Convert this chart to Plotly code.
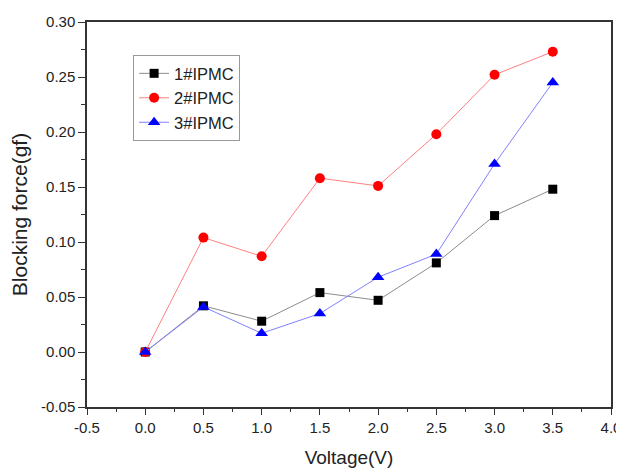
import plotly.graph_objects as go

voltage = [0.0, 0.5, 1.0, 1.5, 2.0, 2.5, 3.0, 3.5]
ipmc1 = [0.000, 0.042, 0.028, 0.054, 0.047, 0.081, 0.124, 0.148]
ipmc2 = [0.000, 0.104, 0.087, 0.158, 0.151, 0.198, 0.252, 0.273]
ipmc3 = [0.000, 0.041, 0.017, 0.035, 0.068, 0.089, 0.171, 0.245]
names = ["1#IPMC", "2#IPMC", "3#IPMC"]

x_tickvals = [-0.5, 0.0, 0.5, 1.0, 1.5, 2.0, 2.5, 3.0, 3.5, 4.0]
x_ticktext = ["-0.5", "0.0", "0.5", "1.0", "1.5", "2.0", "2.5", "3.0", "3.5", "4.0"]
y_tickvals = [-0.05, 0.0, 0.05, 0.10, 0.15, 0.20, 0.25, 0.30]
y_ticktext = ["-0.05", "0.00", "0.05", "0.10", "0.15", "0.20", "0.25", "0.30"]

FONT = "Liberation Sans, Arial, sans-serif"

fig = go.Figure()
fig.add_trace(go.Scatter(x=voltage, y=ipmc1, name=names[0], mode="lines+markers",
                         line=dict(color="#8c8c8c", width=1),
                         marker=dict(symbol="square", size=9, color="black")))
fig.add_trace(go.Scatter(x=voltage, y=ipmc2, name=names[1], mode="lines+markers",
                         line=dict(color="#ff8080", width=1),
                         marker=dict(symbol="circle", size=10, color="#ff0000")))
fig.add_trace(go.Scatter(x=voltage, y=ipmc3, name=names[2], mode="lines+markers",
                         line=dict(color="#8080ff", width=1),
                         marker=dict(symbol="triangle-up", size=11, color="#0000ff")))

axis_common = dict(showgrid=False, zeroline=False, showline=True, linecolor="#333333",
                   linewidth=1.5, mirror=True, ticks="outside",
                   tickcolor="#333333", automargin=False,
                   tickfont=dict(family=FONT, size=15, color="#222222"))

fig.update_xaxes(range=[-0.5, 4.0], tickvals=x_tickvals, ticktext=x_ticktext, ticklen=6,
                 minor=dict(ticks="outside", ticklen=3, dtick=0.25, tickcolor="#333333"),
                 title=dict(text="Voltage(V)", font=dict(family=FONT, size=19, color="#222222"), standoff=18),
                 **axis_common)
fig.update_yaxes(range=[-0.05, 0.30], tickvals=y_tickvals, ticktext=y_ticktext, ticklen=7,
                 minor=dict(ticks="outside", ticklen=4, dtick=0.025, tickcolor="#333333"),
                 title=dict(text="Blocking force(gf)", font=dict(family=FONT, size=21, color="#222222"), standoff=10),
                 **axis_common)

fig.update_layout(
    width=616, height=460,
    margin=dict(l=79, r=13, t=14, b=61),
    plot_bgcolor="white", paper_bgcolor="white",
    legend=dict(x=0.088, y=0.914, xanchor="left", yanchor="top",
                bordercolor="#999999", borderwidth=1, bgcolor="white",
                font=dict(family=FONT, size=16.5, color="#222222"),
                tracegroupgap=0),
)

fig.write_html("out.html")
